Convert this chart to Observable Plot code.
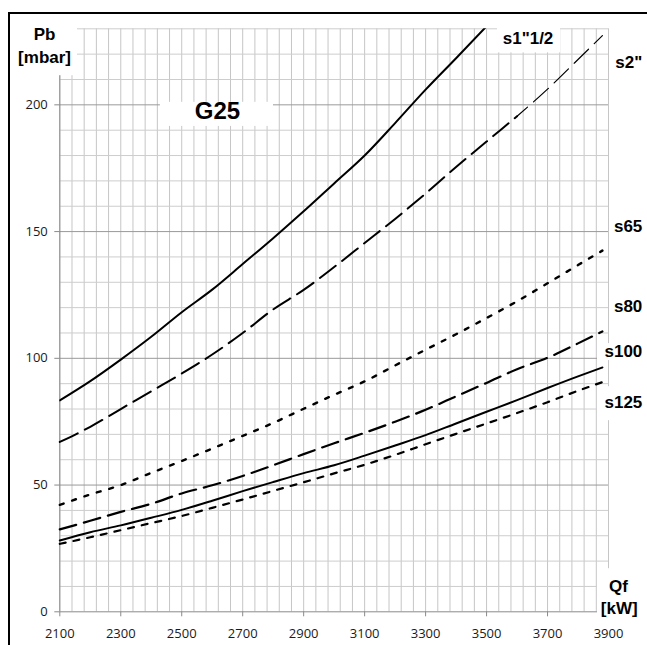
<!DOCTYPE html>
<html><head><meta charset="utf-8">
<script src="https://cdn.jsdelivr.net/npm/d3@7"></script>
<script src="https://cdn.jsdelivr.net/npm/@observablehq/plot@0.6"></script>
<style>
html,body{margin:0;padding:0;background:#fff;overflow:hidden}
#wrap{position:relative;width:647px;height:645px}
#frame{position:absolute;left:8px;top:12px;width:700px;height:700px;border-left:2px solid #000;border-top:2px solid #000;pointer-events:none}
</style></head><body><div id="wrap"><div id="chart"></div><div id="frame"></div></div>
<script>
// Qf [kW]
const qf = [2100,2200,2300,2400,2500,2600,2700,2800,2900,3000,3100,3200,3300,3400,3500,3600,3700,3800,3880];
// Pb [mbar] per series
const s1_12 = [83.4,91,99.5,108.5,118.2,127.1,137.2,147.4,158,169,180,192.8,206,218.4,231,null,null,null,null];
const s2    = [67,73,80,87,94,101.5,110,119.3,127,136,145.5,155,165,175.5,185.5,195.5,206.2,217.9,227.3];
const s65   = [42.2,46.3,50,54.8,59.5,64.4,69.4,74.5,80.1,85.6,90.9,97.2,103.4,109.5,115.9,122.5,129.6,136.8,142.5];
const s80   = [32.5,35.9,39.4,42.6,46.7,49.9,53.6,57.8,62.2,66.5,70.6,75,79.7,85,90.3,95.7,100.2,105.9,110.6];
const s100  = [28.1,31.4,34.1,37.1,40.2,43.8,47.6,51.2,54.7,57.8,61.6,65.6,69.7,74.3,78.9,83.5,88.3,92.9,96.4];
const s125  = [26.8,29.4,32.2,35,37.8,41,44.3,47.7,51.1,54.6,58,61.9,66.1,70.2,74.3,78.4,82.7,87.2,90.6];
const seriesNames = ['s1"1/2', 's2"', 's65', 's80', 's100', 's125'];
const xTicks = [2100,2300,2500,2700,2900,3100,3300,3500,3700,3900];
const yTicks = [0,50,100,150,200];

const rows = (vals) => qf.map((x, i) => ({x, y: vals[i]})).filter(d => d.y != null);
const s2rows = rows(s2);
const s2a = s2rows.filter(d => d.x <= 3600);
const s2b = s2rows.filter(d => d.x >= 3600);

const bold = {fontFamily: "Liberation Sans, Arial, sans-serif", fontWeight: "bold", fill: "#000", lineAnchor: "middle"};
const box = (x1, x2, y1, y2) => Plot.rect([0], {x1, x2, y1, y2, fill: "white"});

const chart = Plot.plot({
  width: 647, height: 645,
  marginLeft: 59.3, marginRight: 39, marginTop: 28.3, marginBottom: 33.7,
  x: {domain: [2100, 3900]},
  y: {domain: [0, 230]},
  style: {fontFamily: "Open Sans, sans-serif", background: "transparent", color: "#1a1a1a"},
  marks: [
    Plot.ruleX(d3.range(2100, 3901, 40), {stroke: "#c6c6c6", strokeOpacity: 1}),
    Plot.ruleY(d3.range(10, 231, 10).filter(v => v % 50 !== 0), {stroke: "#cdcdcd", strokeOpacity: 1}),
    Plot.ruleY([50, 100, 150, 200], {stroke: "#9a9a9a", strokeOpacity: 1}),
    Plot.ruleX([2100], {stroke: "#8a8a8a", strokeOpacity: 1}),
    Plot.ruleY([0], {stroke: "#8a8a8a", strokeOpacity: 1}),
    Plot.axisY({ticks: yTicks, tickSize: 5, tickPadding: 7, fontSize: 13, stroke: "#8a8a8a", strokeOpacity: 1, label: null, tickFormat: "d"}),
    Plot.axisX({ticks: xTicks, tickSize: 5, tickPadding: 12, fontSize: 13, stroke: "#8a8a8a", strokeOpacity: 1, label: null, tickFormat: "d"}),
    // label backgrounds
    box(2000, 2158, 211.5, 245),
    box(2430, 2801, 191.5, 201),
    box(3536, 3743, 220.5, 231.6),
    box(3864, 4030, 99.1, 105.8),
    box(3864, 4030, 75.4, 88.8),
    box(3864, 4030, -4, 17),
    // curves
    Plot.line(rows(s1_12), {x: "x", y: "y", stroke: "#000", strokeWidth: 2, curve: "monotone-x", clip: true}),
    Plot.line(s2a, {x: "x", y: "y", stroke: "#000", strokeWidth: 2, strokeDasharray: "20,8", curve: "monotone-x"}),
    Plot.line(s2b, {x: "x", y: "y", stroke: "#000", strokeWidth: 1.2, strokeDasharray: "20,8", strokeDashoffset: 6, curve: "monotone-x"}),
    Plot.line(rows(s65), {x: "x", y: "y", stroke: "#000", strokeWidth: 2.4, strokeDasharray: "4,9", curve: "monotone-x"}),
    Plot.line(rows(s80), {x: "x", y: "y", stroke: "#000", strokeWidth: 2.2, strokeDasharray: "17,8", curve: "monotone-x"}),
    Plot.line(rows(s100), {x: "x", y: "y", stroke: "#000", strokeWidth: 2, curve: "monotone-x"}),
    Plot.line(rows(s125), {x: "x", y: "y", stroke: "#000", strokeWidth: 2.2, strokeDasharray: "6,8", curve: "monotone-x"}),
    // texts
    Plot.text(["Pb"], {x: 2050, y: 227.7, text: d => d, fontSize: 17, textAnchor: "middle", ...bold}),
    Plot.text(["[mbar]"], {x: 2050, y: 218.7, text: d => d, fontSize: 17, textAnchor: "middle", ...bold}),
    Plot.text(["G25"], {x: 2617, y: 197.6, text: d => d, fontSize: 24, textAnchor: "middle", ...bold}),
    Plot.text([seriesNames[0]], {x: 3636, y: 226.3, text: d => d, fontSize: 17, textAnchor: "middle", ...bold}),
    Plot.text([seriesNames[1]], {x: 4011, y: 216.8, text: d => d, fontSize: 17, textAnchor: "end", ...bold}),
    Plot.text([seriesNames[2]], {x: 4011, y: 151.8, text: d => d, fontSize: 17, textAnchor: "end", ...bold}),
    Plot.text([seriesNames[3]], {x: 4011, y: 120.6, text: d => d, fontSize: 17, textAnchor: "end", ...bold}),
    Plot.text([seriesNames[4]], {x: 4011, y: 102.5, text: d => d, fontSize: 17, textAnchor: "end", ...bold}),
    Plot.text([seriesNames[5]], {x: 4011, y: 82.5, text: d => d, fontSize: 17, textAnchor: "end", ...bold}),
    Plot.text(["Qf"], {x: 3933, y: 10, text: d => d, fontSize: 17, textAnchor: "middle", ...bold}),
    Plot.text(["[kW]"], {x: 3935, y: 1.1, text: d => d, fontSize: 17, textAnchor: "middle", ...bold})
  ]
});
document.getElementById("chart").appendChild(chart);
</script>
</body></html>
